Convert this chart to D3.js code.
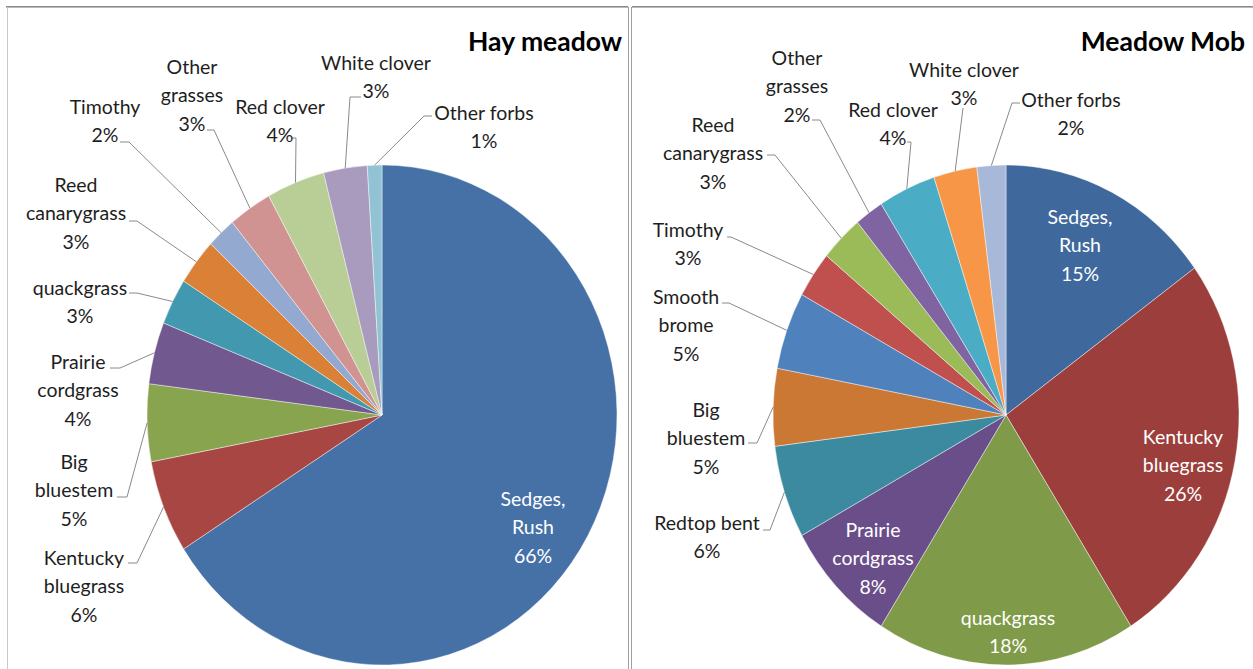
<!DOCTYPE html>
<html>
<head>
<meta charset="utf-8">
<script src="https://cdn.jsdelivr.net/npm/d3@7"></script>
<style>
  body { margin: 0; background: #fff; }
  svg { display: block; }
  text { font-family: Lato, "Open Sans", "Liberation Sans", sans-serif; }
</style>
</head>
<body>
<svg id="chart" width="1253" height="669"></svg>
<script>
// Species composition (% of cover), listed clockwise from 12 o'clock
const hayCategories = ["Sedges, Rush", "Kentucky bluegrass", "Big bluestem", "Prairie cordgrass",
  "quackgrass", "Reed canarygrass", "Timothy", "Other grasses", "Red clover", "White clover", "Other forbs"];
const hayValues = [66, 6, 5, 4, 3, 3, 2, 3, 4, 3, 1];
const hayColors = ["#4571a7", "#a84643", "#88a44e", "#71588f", "#4198af", "#da8137",
  "#93a9d0", "#d19392", "#b9cd96", "#a99bbd", "#92c3d4"];

const mobCategories = ["Sedges, Rush", "Kentucky bluegrass", "quackgrass", "Prairie cordgrass",
  "Redtop bent", "Big bluestem", "Smooth brome", "Timothy", "Reed canarygrass", "Other grasses",
  "Red clover", "White clover", "Other forbs"];
const mobValues = [15, 26, 18, 8, 6, 5, 5, 3, 3, 2, 4, 3, 2];
const mobColors = ["#3f699c", "#9c3f3c", "#7f9a48", "#6a4e89", "#3b8aa0", "#cc7835",
  "#4f81bd", "#c0504d", "#9bbb59", "#8064a2", "#4bacc6", "#f79646", "#a8b8d8"];

// Label placement: first-line centre, whether the name wraps, and the leader tick
const hayLayout = {
  "Sedges, Rush":       { x: 533, y: 499, wrap: true, inside: true },
  "Kentucky bluegrass": { x: 84,  y: 558, wrap: true, tick: [128, 563, 137, 563] },
  "Big bluestem":       { x: 74,  y: 462, wrap: true, tick: [117, 497, 127, 497] },
  "Prairie cordgrass":  { x: 78,  y: 362, wrap: true, tick: [110, 368, 120, 368] },
  "quackgrass":         { x: 80,  y: 288, wrap: false, tick: [129, 293, 137, 293] },
  "Reed canarygrass":   { x: 76,  y: 185, wrap: true, tick: [129, 221, 137, 221] },
  "Timothy":            { x: 105, y: 107, wrap: false, tick: [120, 142, 129, 142] },
  "Other grasses":      { x: 192, y: 67,  wrap: true, tick: [207, 130, 214, 130] },
  "Red clover":         { x: 280, y: 107, wrap: false, tick: [292, 138, 296, 138] },
  "White clover":       { x: 376, y: 63,  wrap: false, tick: [361, 97, 350, 97] },
  "Other forbs":        { x: 484, y: 113, wrap: false, tick: [432, 116, 424, 116] }
};
const mobLayout = {
  "Sedges, Rush":       { x: 1080, y: 217, wrap: true, inside: true },
  "Kentucky bluegrass": { x: 1183, y: 437, wrap: true, inside: true },
  "quackgrass":         { x: 1008, y: 618, wrap: false, inside: true },
  "Prairie cordgrass":  { x: 873,  y: 530, wrap: true, inside: true },
  "Redtop bent":        { x: 707,  y: 523, wrap: false, tick: [763, 530, 770, 530] },
  "Big bluestem":       { x: 706,  y: 410, wrap: true, tick: [748, 443, 757, 443] },
  "Smooth brome":       { x: 686,  y: 297, wrap: true, tick: [722, 303, 729, 303] },
  "Timothy":            { x: 688,  y: 230, wrap: false, tick: [727, 237, 731, 237] },
  "Reed canarygrass":   { x: 713,  y: 125, wrap: true, tick: [767, 155, 775, 155] },
  "Other grasses":      { x: 797,  y: 58,  wrap: true, tick: [812, 120, 820, 120] },
  "Red clover":         { x: 893,  y: 110, wrap: false, tick: [907, 142, 911, 142] },
  "White clover":       { x: 964,  y: 70,  wrap: false, tick: [963, 108, 963, 108] },
  "Other forbs":        { x: 1071, y: 100, wrap: false, tick: [1020, 103, 1012, 103] }
};

const svg = d3.select("#chart");
const lineStep = 28.5;

// Panel frames
const frame = svg.append("g").attr("fill", "none");
frame.append("line").attr("x1", 6).attr("x2", 628).attr("y1", 6.5).attr("y2", 6.5).attr("stroke", "#8c8c8c");
frame.append("line").attr("x1", 6).attr("x2", 628).attr("y1", 7.5).attr("y2", 7.5).attr("stroke", "#b8b8b8");
frame.append("line").attr("x1", 632).attr("x2", 1253).attr("y1", 6.5).attr("y2", 6.5).attr("stroke", "#8c8c8c");
frame.append("line").attr("x1", 632).attr("x2", 1253).attr("y1", 7.5).attr("y2", 7.5).attr("stroke", "#b8b8b8");
frame.append("line").attr("x1", 7.5).attr("x2", 7.5).attr("y1", 7).attr("y2", 669).attr("stroke", "#c8c8c8");
frame.append("line").attr("x1", 628.5).attr("x2", 628.5).attr("y1", 7).attr("y2", 669).attr("stroke", "#a0a0a0");
frame.append("line").attr("x1", 631.5).attr("x2", 631.5).attr("y1", 7).attr("y2", 669).attr("stroke", "#a0a0a0");

function drawPie(opts) {
  const { categories, values, colors, layout, cx, cy, rx, ry, title, titleX } = opts;
  const data = categories.map((c, i) => ({ name: c, value: values[i], color: colors[i] }));
  const pie = d3.pie().sort(null).value(d => d.value).startAngle(0).endAngle(2 * Math.PI);
  const arcs = pie(data);
  const arc = d3.arc().innerRadius(0).outerRadius(rx);

  const g = svg.append("g");
  // Slices (circle stretched vertically into the plot's ellipse)
  g.append("g")
    .attr("transform", `translate(${cx},${cy}) scale(1,${ry / rx})`)
    .selectAll("path")
    .data(arcs)
    .join("path")
    .attr("d", arc)
    .attr("fill", d => d.data.color)
    .attr("stroke", "rgba(255,255,255,0.55)")
    .attr("stroke-width", 0.8)
    .attr("vector-effect", "non-scaling-stroke");

  const edgePoint = a => {
    const m = (a.startAngle + a.endAngle) / 2;
    return [cx + rx * Math.sin(m), cy - ry * Math.cos(m)];
  };

  // Leader lines for the outside labels
  g.append("g")
    .selectAll("polyline")
    .data(arcs.filter(a => !layout[a.data.name].inside))
    .join("polyline")
    .attr("fill", "none")
    .attr("stroke", "#8a8a8a")
    .attr("stroke-width", 1)
    .attr("points", a => {
      const t = layout[a.data.name].tick;
      const e = edgePoint(a);
      return [[t[0], t[1]], [t[2], t[3]], e].map(p => p.join(",")).join(" ");
    });

  // Category and percentage labels
  const labels = g.append("g").attr("text-anchor", "middle").attr("font-size", 19.5);
  arcs.forEach(a => {
    const L = layout[a.data.name];
    const lines = (L.wrap ? a.data.name.split(" ") : [a.data.name]).concat([a.data.value + "%"]);
    const t = labels.append("text")
      .attr("fill", L.inside ? "#ffffff" : "#1e1e1e");
    lines.forEach((s, i) => {
      t.append("tspan")
        .attr("x", L.x)
        .attr("y", L.y + i * lineStep)
        .attr("dy", "0.35em")
        .text(s);
    });
  });

  // Chart title
  g.append("text")
    .attr("x", titleX)
    .attr("y", 42)
    .attr("dy", "0.35em")
    .attr("text-anchor", "end")
    .attr("font-size", 26.5)
    .attr("font-weight", 700)
    .attr("fill", "#000")
    .text(title);
}

drawPie({ categories: hayCategories, values: hayValues, colors: hayColors, layout: hayLayout,
  cx: 382, cy: 415, rx: 235, ry: 250, title: "Hay meadow", titleX: 622 });
drawPie({ categories: mobCategories, values: mobValues, colors: mobColors, layout: mobLayout,
  cx: 1006, cy: 415, rx: 233, ry: 250, title: "Meadow Mob", titleX: 1245 });
</script>
</body>
</html>
